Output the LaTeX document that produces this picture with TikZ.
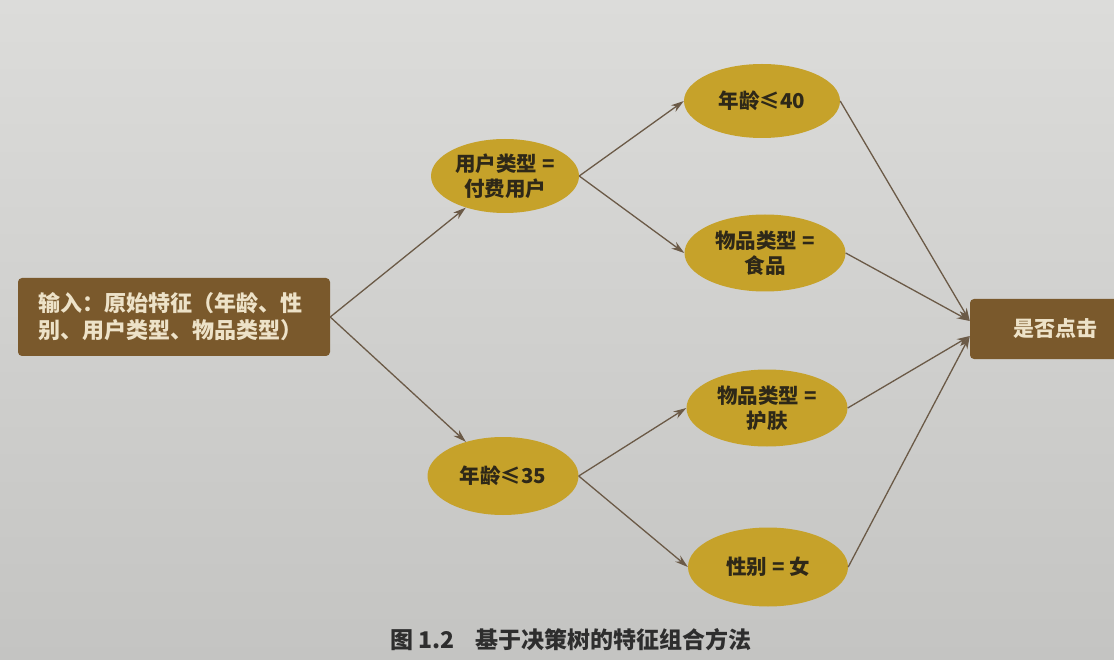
\documentclass[tikz,border=0pt]{standalone}
\usepackage{fontspec}
\setmainfont{Noto Sans CJK SC}
\usetikzlibrary{shapes.geometric,arrows.meta}
\definecolor{pagetop}{HTML}{DCDCDA}
\definecolor{pagebot}{HTML}{C4C4C2}
\definecolor{gold}{HTML}{C6A22A}
\definecolor{brownbox}{HTML}{7A592C}
\definecolor{cream}{HTML}{EDE2C8}
\definecolor{inkdark}{HTML}{2E2818}
\definecolor{linecol}{HTML}{6B5A47}
\definecolor{captext}{HTML}{2E2E2E}
\tikzset{
  leaf/.style={ellipse, fill=gold, inner sep=0pt, text=inkdark, align=center,
    font=\fontsize{20.5}{25}\selectfont\bfseries},
  boxnode/.style={rectangle, rounded corners=4pt, fill=brownbox,
    text=cream, inner sep=0pt},
  conn/.style={draw=linecol, line width=1.3pt,
    -{Stealth[length=13pt,width=8pt]}}
}
\begin{document}
\begin{tikzpicture}[x=1pt,y=-1pt]
\useasboundingbox (0,0) rectangle (1114,660);
\clip (0,0) rectangle (1114,660);
\shade[top color=pagetop, bottom color=pagebot] (0,0) rectangle (1114,660);

\node[boxnode, minimum width=312pt, minimum height=78pt, text width=272pt,
      align=left, font=\fontsize{22}{27}\selectfont\bfseries] (in) at (174,317)
      {输入：原始特征（年龄、性\\别、用户类型、物品类型）};

\node[leaf, minimum width=148pt, minimum height=74pt] (A) at (505,176) {用户类型 =\\付费用户};
\node[leaf, minimum width=151pt, minimum height=78pt] (B) at (503,476) {年龄≤35};
\node[leaf, minimum width=156pt, minimum height=74pt] (C) at (762,101) {年龄≤40};
\node[leaf, minimum width=161pt, minimum height=77pt] (D) at (765,253) {物品类型 =\\食品};
\node[leaf, minimum width=161pt, minimum height=77pt] (E) at (767,408) {物品类型 =\\护肤};
\node[leaf, minimum width=160pt, minimum height=79pt] (F) at (768,567) {性别 = 女};

\node[boxnode, minimum width=180pt, minimum height=60pt] (out) at (1060,329) {};
\node[text=cream, font=\fontsize{21}{25}\selectfont\bfseries, inner sep=0pt] (outlabel) at (1055,329) {是否点击};

\draw[conn] (in.east) -- (A);
\draw[conn] (in.east) -- (B);
\draw[conn] (A.east) -- (C.west);
\draw[conn] (A.east) -- (D.west);
\draw[conn] (B.east) -- (E.west);
\draw[conn] (B.east) -- (F.west);
\draw[conn] (C.east) -- ([yshift=8pt]out.west);
\draw[conn] (D.east) -- ([yshift=8pt]out.west);
\draw[conn] (E.east) -- ([yshift=-7pt]out.west);
\draw[conn] (F.east) -- ([yshift=-7pt]out.west);

\node[text=captext, font=\fontsize{23}{27}\selectfont\bfseries, inner sep=0pt] (cap) at (571,640)
  {图 1.2\hspace{0.9em}基于决策树的特征组合方法};
\end{tikzpicture}
\end{document}
